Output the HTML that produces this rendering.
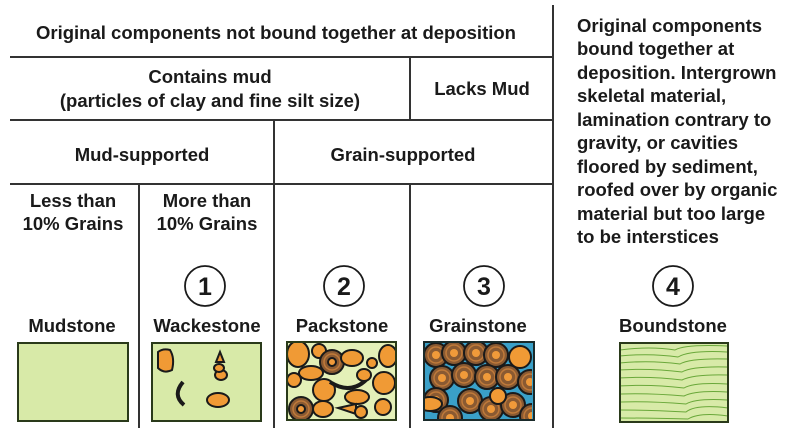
<!DOCTYPE html>
<html><head><meta charset="utf-8"><style>
html,body{margin:0;padding:0;background:#fff;}
svg{display:block;}
text{font-family:"Liberation Sans",Arial,sans-serif;fill:#1a1a1a;}
</style></head><body>
<svg width="800" height="438" viewBox="0 0 800 438" xmlns="http://www.w3.org/2000/svg">
<defs>
<clipPath id="cp"><rect x="288" y="343" width="107" height="76"/></clipPath>
<clipPath id="cg"><rect x="425" y="343" width="107" height="76"/></clipPath>
<clipPath id="cb"><rect x="621" y="344" width="106" height="77"/></clipPath>
<g id="ooid"><circle r="12" fill="#8a5a32" stroke="#1a1a1a" stroke-width="2"/><circle r="8" fill="none" stroke="#c07a3a" stroke-width="1.5"/><circle r="4" fill="#f09a3a"/></g>
<g id="og" ><circle r="11" fill="#f09a35" stroke="#1a1a1a" stroke-width="2"/></g>
</defs>
<g stroke="#333" stroke-width="2" fill="none">
<line x1="10" y1="57" x2="553" y2="57"/>
<line x1="10" y1="120" x2="553" y2="120"/>
<line x1="10" y1="184" x2="553" y2="184"/>
<line x1="553" y1="5" x2="553" y2="428"/>
<line x1="410" y1="57" x2="410" y2="120"/>
<line x1="274" y1="120" x2="274" y2="428"/>
<line x1="139" y1="184" x2="139" y2="428"/>
<line x1="410" y1="184" x2="410" y2="428"/>
</g>
<g font-size="18.5" font-weight="bold" text-anchor="middle">
<text x="276" y="39">Original components not bound together at deposition</text>
<text x="210" y="83">Contains mud</text>
<text x="210" y="107">(particles of clay and fine silt size)</text>
<text x="482" y="95">Lacks Mud</text>
<text x="142" y="161">Mud-supported</text>
<text x="403" y="161">Grain-supported</text>
<text x="73" y="207">Less than</text>
<text x="73" y="230">10% Grains</text>
<text x="207" y="207">More than</text>
<text x="207" y="230">10% Grains</text>
<text x="72" y="332">Mudstone</text>
<text x="207" y="332">Wackestone</text>
<text x="342" y="332">Packstone</text>
<text x="478" y="332">Grainstone</text>
<text x="673" y="332">Boundstone</text>
</g>
<g font-size="18.5" font-weight="bold">
<text x="577" y="32">Original components</text>
<text x="577" y="55">bound together at</text>
<text x="577" y="79">deposition. Intergrown</text>
<text x="577" y="102">skeletal material,</text>
<text x="577" y="126">lamination contrary to</text>
<text x="577" y="149">gravity, or cavities</text>
<text x="577" y="173">floored by sediment,</text>
<text x="577" y="196">roofed over by organic</text>
<text x="577" y="220">material but too large</text>
<text x="577" y="243">to be interstices</text>
</g>
<g fill="none" stroke="#1a1a1a" stroke-width="1.8">
<circle cx="205" cy="286" r="20"/><circle cx="344" cy="286" r="20"/><circle cx="484" cy="286" r="20"/><circle cx="673" cy="286" r="20"/>
</g>
<g font-size="25" font-weight="bold" text-anchor="middle">
<text x="205" y="295">1</text><text x="344" y="295">2</text><text x="484" y="295">3</text><text x="673" y="295">4</text>
</g>
<rect x="18" y="343" width="110" height="78" fill="#d8eaa8" stroke="#2a3a1a" stroke-width="2"/>
<rect x="152" y="343" width="109" height="78" fill="#d8eaa8" stroke="#2a3a1a" stroke-width="2"/>
<g stroke="#1a1a1a" stroke-width="2" fill="#f09a35">
<path d="M158 352 Q163 348 170 350 Q175 358 172 370 Q164 374 158 368 Z"/>
<ellipse cx="218" cy="400" rx="11" ry="7"/>
<path d="M216 362 l4 -10 l4 10 Z"/><ellipse cx="221" cy="375" rx="6" ry="5"/><ellipse cx="219" cy="368" rx="5" ry="4"/>
</g>
<path d="M183 382 Q172 395 184 405" fill="none" stroke="#1a1a1a" stroke-width="4"/>
<rect x="287" y="342" width="109" height="78" fill="#e4f0b8" stroke="#2a3a1a" stroke-width="2"/>
<g clip-path="url(#cp)" stroke="#1a1a1a" stroke-width="2" fill="#f09a35">
<ellipse cx="298" cy="354" rx="11" ry="13"/>
<circle cx="319" cy="351" r="7"/>
<use href="#ooid" x="332" y="362"/>
<ellipse cx="352" cy="358" rx="11" ry="8"/>
<ellipse cx="388" cy="356" rx="9" ry="11"/>
<ellipse cx="311" cy="373" rx="12" ry="7"/>
<circle cx="294" cy="380" r="7"/>
<circle cx="324" cy="390" r="11"/>
<path d="M330 382 Q350 395 366 380" fill="none" stroke-width="4"/>
<ellipse cx="364" cy="375" rx="7" ry="6"/>
<ellipse cx="372" cy="363" rx="5" ry="5"/>
<circle cx="384" cy="383" r="11"/>
<ellipse cx="357" cy="397" rx="12" ry="7"/>
<use href="#ooid" x="301" y="409"/>
<ellipse cx="323" cy="409" rx="10" ry="8"/>
<path d="M338 408 l18 -4 l0 10 Z"/>
<circle cx="361" cy="412" r="6"/>
<circle cx="383" cy="407" r="8"/>
</g>
<rect x="287" y="342" width="109" height="78" fill="none" stroke="#2a3a1a" stroke-width="2"/>
<rect x="424" y="342" width="110" height="78" fill="#3aa0c8" stroke="#1a2a2a" stroke-width="2"/>
<g clip-path="url(#cg)">
<use href="#ooid" x="436" y="355"/><use href="#ooid" x="454" y="353"/><use href="#ooid" x="476" y="353"/><use href="#ooid" x="496" y="355"/>
<use href="#og" x="520" y="357"/>
<use href="#ooid" x="442" y="378"/><use href="#ooid" x="464" y="375"/><use href="#ooid" x="487" y="377"/><use href="#ooid" x="508" y="377"/><use href="#ooid" x="530" y="382"/>
<use href="#ooid" x="436" y="400"/><use href="#ooid" x="470" y="401"/><use href="#ooid" x="491" y="409"/><use href="#ooid" x="513" y="405"/>
<ellipse cx="430" cy="404" rx="12" ry="7" fill="#f09a35" stroke="#1a1a1a" stroke-width="2"/>
<circle cx="498" cy="396" r="8" fill="#f09a35" stroke="#1a1a1a" stroke-width="2"/>
<use href="#ooid" x="450" y="418"/><use href="#ooid" x="532" y="416"/>
</g>
<rect x="424" y="342" width="110" height="78" fill="none" stroke="#1a2a2a" stroke-width="2"/>
<rect x="620" y="343" width="108" height="79" fill="#d8eaa8" stroke="#2a3a1a" stroke-width="2"/>
<g clip-path="url(#cb)" fill="none" stroke="#6aa83a" stroke-width="1">
<path d="M620 350 Q650 346 675 350 Q685 344 728 346"/>
<path d="M620 356 Q650 353 678 357 Q690 350 728 352"/>
<path d="M620 363 Q650 360 680 364 Q690 358 728 359"/>
<path d="M620 370 Q650 368 682 372 Q692 366 728 367"/>
<path d="M620 378 Q650 376 682 380 Q694 374 728 375"/>
<path d="M620 386 Q650 384 684 388 Q694 382 728 384"/>
<path d="M620 394 Q650 393 684 396 Q696 390 728 392"/>
<path d="M620 402 Q650 401 686 404 Q696 398 728 400"/>
<path d="M620 410 Q650 410 686 412 Q696 404 728 408"/>
<path d="M620 418 Q650 418 688 419 Q700 412 728 416"/>
</g>
</svg>
</body></html>
